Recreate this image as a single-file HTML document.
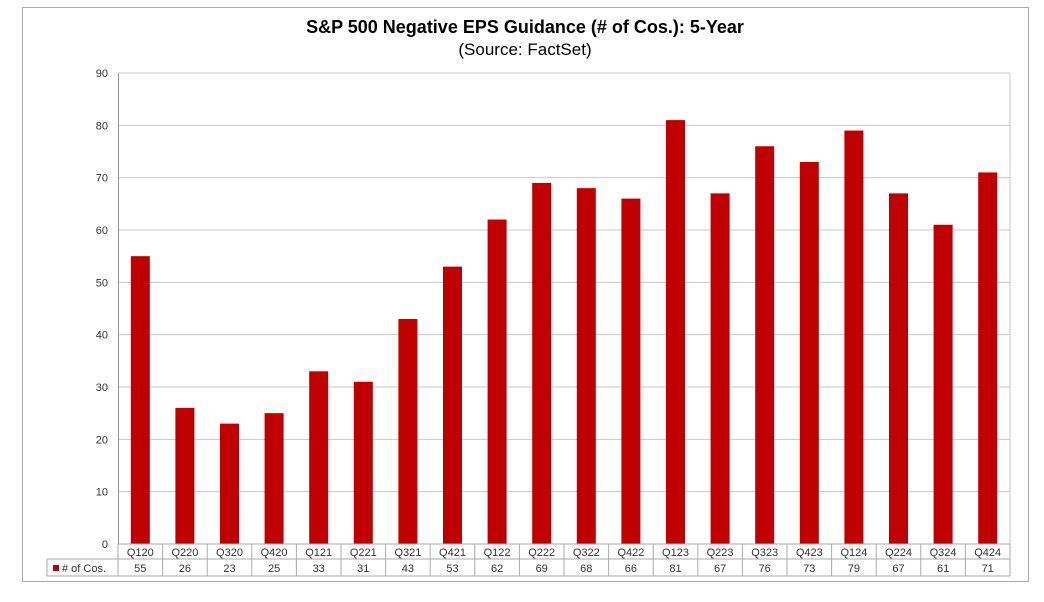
<!DOCTYPE html>
<html><head><meta charset="utf-8"><style>
body{margin:0;background:#fff;width:1044px;height:597px;overflow:hidden}
svg{font-family:"Liberation Sans",sans-serif}
</style></head><body>
<svg width="1044" height="597">
<rect x="22.5" y="7.5" width="1006" height="574" fill="#fff" stroke="#aaa"/>
<text x="525" y="33" text-anchor="middle" font-size="18" font-weight="bold">S&amp;P 500 Negative EPS Guidance (# of Cos.): 5-Year</text>
<text x="525" y="55" text-anchor="middle" font-size="17">(Source: FactSet)</text>
<g id="grid"></g><g id="bars"></g><g id="table"></g>
</svg>
<script>
const categories=["Q120","Q220","Q320","Q420","Q121","Q221","Q321","Q421","Q122","Q222","Q322","Q422","Q123","Q223","Q323","Q423","Q124","Q224","Q324","Q424"];
const values=[55,26,23,25,33,31,43,53,62,69,68,66,81,67,76,73,79,67,61,71];
const ticks=[0,10,20,30,40,50,60,70,80,90];
const NS="http://www.w3.org/2000/svg";
const L=118,R=1010,T=73,B=544,ymax=90;
const y=v=>B-(v/ymax)*(B-T);
const bw=(R-L)/categories.length;
const x=i=>L+bw*i;
function mk(t,a,p){const e=document.createElementNS(NS,t);for(const k in a)e.setAttribute(k,a[k]);p.appendChild(e);return e;}
const g=document.getElementById('grid'),b=document.getElementById('bars'),tb=document.getElementById('table');
ticks.forEach(v=>{
 const l=mk('line',{x1:L,x2:R,y1:y(v),y2:y(v),stroke:v==0?'#999':'#c8c8c8','stroke-width':1},g);
 
 
 const t=mk('text',{x:L-10,y:y(v)+4,'text-anchor':'end','font-size':11,fill:'#333'},g);
 t.textContent=v;
 
 
});
const al=mk('line',{x1:L+.5,x2:L+.5,y1:T,y2:B,stroke:'#999'},g);


const rl=mk('line',{x1:R,x2:R,y1:T,y2:B,stroke:'#c8c8c8'},g);


values.forEach((v,i)=>{
 const r=mk('rect',{x:x(i)+bw/2-9.5,y:y(v),width:19,height:B-y(v),fill:'#c00000'},b);
 
 
});
// table
const r1=B,r2=559,r3=576;
[[L,r1,R,r1],[47,r2,R,r2],[47,r3,R,r3],[47,r2,47,r3]].forEach(c=>{
 const l=mk('line',{x1:c[0],y1:c[1],x2:c[2],y2:c[3],stroke:'#aaa'},tb);
 
 
});
for(let i=0;i<=categories.length;i++){
 const l=mk('line',{x1:x(i),x2:x(i),y1:r1,y2:r3,stroke:'#aaa'},tb);
 
 
}
categories.forEach((c,i)=>{
 const t=mk('text',{x:x(i)+bw/2,y:r1+12,'text-anchor':'middle','font-size':11,fill:'#333'},tb);
 t.textContent=c;
 
 
 const t2=mk('text',{x:x(i)+bw/2,y:r2+13,'text-anchor':'middle','font-size':11,fill:'#333'},tb);
 t2.textContent=values[i];
 
 
});
const sw=mk('rect',{x:53,y:565,width:6,height:6,fill:'#c00000'},tb);


const lt=mk('text',{x:62,y:572,'font-size':11,fill:'#333'},tb);
lt.textContent='# of Cos.';


</script>
</body></html>
